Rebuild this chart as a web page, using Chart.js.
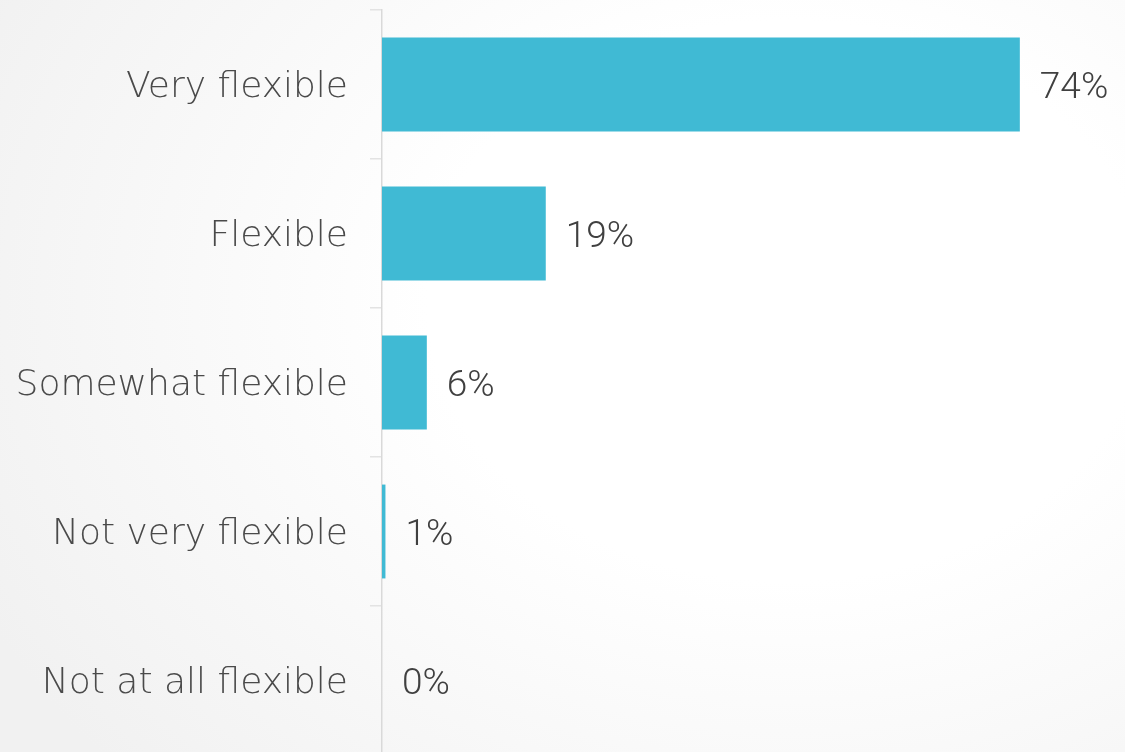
<!DOCTYPE html>
<html>
<head>
<meta charset="utf-8">
<script src="https://cdn.jsdelivr.net/npm/chart.js@4"></script>
<style>
  html, body { margin: 0; padding: 0; width: 1125px; height: 752px; overflow: hidden; }
  body { background: radial-gradient(ellipse 900px 700px at 70% 40%, #ffffff 40%, #f1f1f1 100%); }
  #wrap { position: relative; width: 1125px; height: 755px; }
</style>
</head>
<body>
<div id="wrap"><canvas id="flex-chart"></canvas></div>
<script>
const categories = ["Very flexible", "Flexible", "Somewhat flexible", "Not very flexible", "Not at all flexible"];
const shares = [74, 19, 5.2, 0.4, 0];
const shareLabels = ["74%", "19%", "6%", "1%", "0%"];

// draws the percentage next to each bar
const valueLabels = {
    id: "valueLabels",
    afterDatasetsDraw(chart) {
        const ctx = chart.ctx;
        const meta = chart.getDatasetMeta(0);
        ctx.save();
        ctx.font = "300 37px Roboto";
        ctx.fillStyle = "#404040";
        ctx.textBaseline = "middle";
        meta.data.forEach((bar, i) => {
            ctx.fillText(shareLabels[i], bar.x + 20, bar.y + 4);
        });
        ctx.restore();
    }
};

new Chart("flex-chart", {
    type: "bar",
    data: {
        labels: categories,
        datasets: [{
            data: shares,
            backgroundColor: "#40BAD4",
            barPercentage: 0.63,
            categoryPercentage: 1
        }]
    },
    options: {
        indexAxis: "y",
        responsive: true,
        maintainAspectRatio: false,
        animation: false,
        layout: { padding: { top: 10, right: 0, bottom: 0, left: 0 } },
        plugins: {
            legend: { display: false },
            tooltip: { enabled: false }
        },
        scales: {
            x: {
                display: false,
                min: 0,
                max: 86.2
            },
            y: {
                afterFit: (scale) => {
                    scale.width = 382;
                    scale.paddingTop = 0;
                    scale.paddingBottom = 0;
                },
                border: { color: "#d9d9d9", width: 1.5 },
                grid: {
                    drawOnChartArea: false,
                    tickLength: 12,
                    color: "#e3e3e3",
                    lineWidth: 1.5
                },
                ticks: {
                    color: "#4a4a4a",
                    padding: 22,
                    labelOffset: 3,
                    font: { family: "'DejaVu Sans'", size: 36, weight: 300 }
                }
            }
        }
    },
    plugins: [valueLabels]
});
</script>
</body>
</html>
